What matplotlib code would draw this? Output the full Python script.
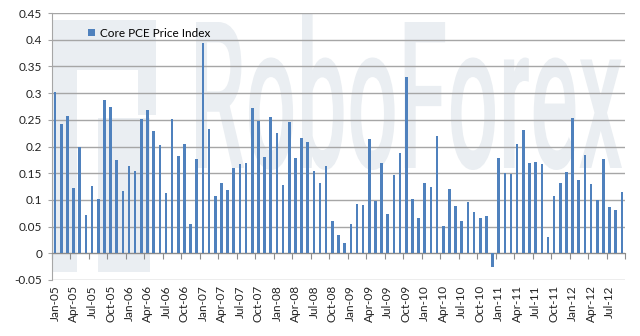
"""Monthly core PCE price index changes, 2005-2012, Excel-style bar chart."""

import matplotlib

matplotlib.use("Agg")
import matplotlib.pyplot as plt
import numpy as np
from matplotlib.font_manager import FontProperties
from matplotlib.patches import PathPatch, Rectangle
from matplotlib.textpath import TextPath
from matplotlib.transforms import Affine2D

SERIES_NAME = "Core PCE Price Index"
MONTHS = ["Jan", "Feb", "Mar", "Apr", "May", "Jun", "Jul", "Aug", "Sep", "Oct", "Nov", "Dec"]
YEARS = list(range(2005, 2013))
LAST_MONTH = 9  # data runs through Sep-12

PCE_CHANGE = [
    # 2005
    0.302, 0.243, 0.258, 0.122, 0.199, 0.072, 0.126, 0.102, 0.287, 0.274, 0.175, 0.117,
    # 2006
    0.164, 0.154, 0.251, 0.269, 0.229, 0.203, 0.113, 0.251, 0.182, 0.205, 0.054, 0.177,
    # 2007
    0.394, 0.232, 0.108, 0.132, 0.118, 0.159, 0.168, 0.169, 0.272, 0.248, 0.180, 0.255,
    # 2008
    0.225, 0.127, 0.246, 0.179, 0.215, 0.208, 0.154, 0.132, 0.164, 0.061, 0.034, 0.020,
    # 2009
    0.054, 0.092, 0.090, 0.214, 0.098, 0.169, 0.074, 0.147, 0.187, 0.330, 0.102, 0.066,
    # 2010
    0.132, 0.125, 0.220, 0.052, 0.120, 0.089, 0.060, 0.097, 0.077, 0.067, 0.069, -0.025,
    # 2011
    0.179, 0.151, 0.149, 0.205, 0.230, 0.169, 0.171, 0.167, 0.031, 0.107, 0.132, 0.153,
    # 2012
    0.253, 0.137, 0.185, 0.130, 0.100, 0.177, 0.087, 0.081, 0.115,
]

Y_TICKS = [-0.05, 0, 0.05, 0.1, 0.15, 0.2, 0.25, 0.3, 0.35, 0.4, 0.45]

BAR_COLOR = "#4f81bd"
GRID_COLOR = "#a6a6a6"
WATERMARK = "#eaeef2"
FONT = ["Lato", "DejaVu Sans"]

labels = [f"{m}-{str(y)[2:]}" for y in YEARS for m in MONTHS][: (len(YEARS) - 1) * 12 + LAST_MONTH]
values = np.array(PCE_CHANGE)
x = np.arange(len(values))

plt.rcParams["font.family"] = FONT
fig = plt.figure(figsize=(6.4, 3.36), dpi=100)
ax = fig.add_axes([52 / 640, 1 - 280 / 336, 573 / 640, 267 / 336])
ax.patch.set_alpha(0)


def _px_box(x0, y0, x1, y1):
    # pixel box measured from the top-left corner -> display coords
    return Rectangle((x0, 336 - y1), x1 - x0, y1 - y0, transform=None,
                     facecolor=WATERMARK, edgecolor="none", zorder=-5)


# background logo block
for box in [(53, 20, 77, 272), (53, 20, 156, 70), (138, 20, 156, 115), (98, 118, 150, 272)]:
    fig.add_artist(_px_box(*box))

# background brand name, stretched into its box
tp = TextPath((0, 0), "RoboForex", size=100, prop=FontProperties(family="Roboto", weight="medium"))
ext = tp.get_extents()
tx0, tx1, ty_top, ty_base = 196, 622, 14, 170
sx = (tx1 - tx0) / ext.width
sy = (ty_base - ty_top) / ext.height
trans = Affine2D().translate(-ext.x0, -ext.y0).scale(sx, sy).translate(tx0, 336 - ty_base)
fig.add_artist(PathPatch(trans.transform_path(tp), transform=None, facecolor=WATERMARK,
                         edgecolor="none", zorder=-5))

ax.bar(x, values, width=0.42, color=BAR_COLOR, label=SERIES_NAME, zorder=3)

ax.set_xlim(-0.5, len(values) - 0.5)
ax.set_ylim(-0.05, 0.45)
ax.set_yticks(Y_TICKS)
ax.set_yticklabels([f"{v:g}" for v in Y_TICKS])
ax.yaxis.grid(True, color=GRID_COLOR, linewidth=1.0, zorder=0)
ax.tick_params(axis="y", length=3, width=0.8, color=GRID_COLOR, pad=4, labelsize=8.5,
               labelcolor="#222222")

# category axis sits on the zero line; ticks between groups of three months
ax.spines["bottom"].set_position(("data", 0))
ax.spines["bottom"].set_color("#8c8c8c")
ax.spines["left"].set_color(GRID_COLOR)
ax.spines["top"].set_visible(False)
ax.spines["right"].set_visible(False)
ax.set_xticks(np.arange(-0.5, len(values), 3))
ax.set_xticklabels([])
ax.tick_params(axis="x", which="major", length=4, width=0.8, color="#8c8c8c")
ax.set_xticks(x[::3], minor=True)
ax.set_xticklabels(labels[::3], minor=True, rotation=90, fontsize=8.5, color="#222222")
ax.tick_params(axis="x", which="minor", length=0, pad=23)

leg = ax.legend(loc="upper left", bbox_to_anchor=(0.045, 0.985), frameon=False, fontsize=8.5,
                handlelength=0.6, handleheight=0.6, handletextpad=0.4)

fig.savefig("out.png", dpi=100)
